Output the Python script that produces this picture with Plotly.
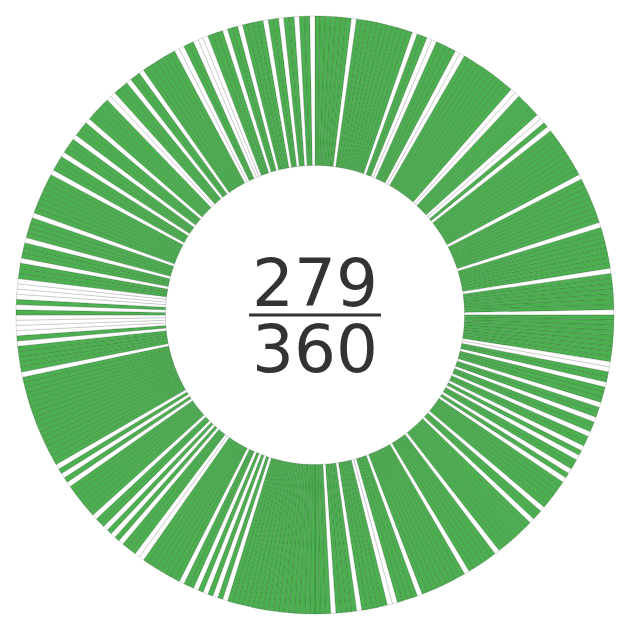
import plotly.graph_objects as go

# Degrees (0 = 12 o'clock, clockwise) whose slice is NOT filled
unfilled_degrees = [
    7, 19, 22, 23, 28, 29, 41, 42, 48, 49,
    51, 62, 72, 81, 89, 99, 100, 103, 107, 110,
    113, 116, 118, 121, 123, 130, 133, 142, 149, 159,
    164, 165, 171, 176, 197, 199, 201, 203, 206, 215,
    216, 220, 222, 224, 227, 235, 237, 239, 258, 264,
    266, 267, 268, 269, 271, 273, 274, 275, 276, 280,
    284, 289, 298, 302, 306, 310, 316, 317, 321, 324,
    332, 333, 336, 337, 338, 342, 345, 350, 353, 356, 359,
]
total_slices = 360
filled_count = "279"
total_label = "360"

fill_color = "#4CAF50"
empty_color = "#FFFFFF"

labels = [str(i) for i in range(total_slices)]
values = [1] * total_slices
empty_set = set(unfilled_degrees)
colors = [empty_color if i in empty_set else fill_color for i in range(total_slices)]

fig = go.Figure(go.Pie(
    labels=labels,
    values=values,
    sort=False,
    direction="clockwise",
    rotation=0,
    hole=0.5,
    textinfo="none",
    hoverinfo="label",
    marker=dict(colors=colors, line=dict(color="rgba(0,0,0,0.14)", width=1)),
    domain=dict(x=[16/630, 614/630], y=[16/630, 614/630]),
    showlegend=False,
))

fig.add_annotation(text=filled_count, x=0.5, y=1-283/630, xref="paper", yref="paper",
                   showarrow=False, xanchor="center", yanchor="middle", height=62,
                   font=dict(family="DejaVu Sans", size=66, color="#333333"))
fig.add_annotation(text=total_label, x=0.5, y=1-349/630, xref="paper", yref="paper",
                   showarrow=False, xanchor="center", yanchor="middle", height=62,
                   font=dict(family="DejaVu Sans", size=66, color="#333333"))
fig.add_shape(type="line", xref="paper", yref="paper",
              x0=249/630, x1=381/630, y0=1-315/630, y1=1-315/630,
              line=dict(color="#333333", width=3))

fig.update_layout(width=630, height=630, margin=dict(l=0, r=0, t=0, b=0),
                  paper_bgcolor="white", plot_bgcolor="white")
fig.write_html("out.html")
